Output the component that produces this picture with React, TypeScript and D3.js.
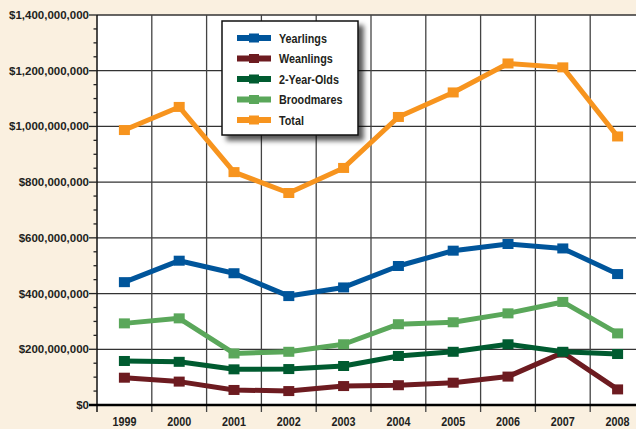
import React, { useEffect, useRef } from 'react';
import * as d3 from 'd3';

const years = ['1999', '2000', '2001', '2002', '2003', '2004', '2005', '2006', '2007', '2008'];

// sales in $ millions
const yearlings = [441, 518, 473, 391, 422, 499, 554, 578, 562, 470];
const weanlings = [98, 84, 54, 50, 68, 71, 80, 102, 188, 56];
const twoYearOlds = [158, 155, 128, 129, 140, 176, 191, 218, 191, 183];
const broodmares = [293, 311, 185, 191, 218, 290, 297, 329, 370, 257];
const total = [987, 1070, 836, 761, 851, 1034, 1122, 1226, 1212, 964];

const seriesNames = ['Yearlings', 'Weanlings', '2-Year-Olds', 'Broodmares', 'Total'];
const seriesColors = ['#00559b', '#6d1b20', '#005b30', '#5aa75a', '#f7941e'];
const seriesValues = [yearlings, weanlings, twoYearOlds, broodmares, total];

const yTicks = [0, 200, 400, 600, 800, 1000, 1200, 1400];

const App: React.FC = () => {
  const svgRef = useRef<SVGSVGElement>(null);

  useEffect(() => {
    if (!svgRef.current) return;
    const svg = d3.select(svgRef.current);
    svg.selectAll('*').remove();

    const width = 636;
    const height = 429;
    const margin = { top: 15, left: 97, bottom: 24 };
    const plotRight = 645;
    const plotBottom = height - margin.bottom;
    // no narrow font installed, so squeeze a bold sans horizontally
    const narrow = 0.83;

    const x = d3.scaleBand<string>().domain(years).range([margin.left, plotRight]).padding(0);
    const y = d3.scaleLinear().domain([0, 1400e6]).range([plotBottom, margin.top]);
    const cx = (yr: string) => (x(yr) || 0) + x.bandwidth() / 2;

    svg.append('rect').attr('width', width).attr('height', height).attr('fill', '#faf0e0');
    svg.append('rect')
      .attr('x', margin.left).attr('y', margin.top)
      .attr('width', plotRight - margin.left).attr('height', plotBottom - margin.top)
      .attr('fill', '#ffffff');

    const defs = svg.append('defs');
    const filter = defs.append('filter').attr('id', 'shadow')
      .attr('x', '-20%').attr('y', '-20%').attr('width', '150%').attr('height', '150%');
    filter.append('feDropShadow')
      .attr('dx', 5).attr('dy', 5).attr('stdDeviation', 2.5)
      .attr('flood-color', '#000').attr('flood-opacity', 0.65);

    // grid
    const grid = svg.append('g');
    yTicks.filter(t => t > 0).forEach(t => {
      grid.append('line')
        .attr('x1', margin.left).attr('x2', plotRight)
        .attr('y1', y(t * 1e6)).attr('y2', y(t * 1e6))
        .attr('stroke', '#333').attr('stroke-width', 1.3);
    });
    years.slice(1).forEach(yr => {
      const gx = x(yr) || 0;
      grid.append('line')
        .attr('x1', gx).attr('x2', gx)
        .attr('y1', margin.top).attr('y2', plotBottom + 7)
        .attr('stroke', '#444').attr('stroke-width', 1.3);
    });

    // left axis
    svg.append('line')
      .attr('x1', margin.left).attr('x2', margin.left)
      .attr('y1', margin.top).attr('y2', plotBottom + 7)
      .attr('stroke', '#111').attr('stroke-width', 1.5);
    d3.range(0, 1401, 50).forEach(v => {
      const major = v % 200 === 0;
      svg.append('line')
        .attr('x1', margin.left - (major ? 8 : 3.5)).attr('x2', margin.left)
        .attr('y1', y(v * 1e6)).attr('y2', y(v * 1e6))
        .attr('stroke', '#222').attr('stroke-width', 1.3);
    });
    svg.append('g').selectAll('text')
      .data(yTicks)
      .enter()
      .append('text')
      .attr('x', margin.left - 8)
      .attr('y', d => y(d * 1e6))
      .attr('dy', '0.35em')
      .attr('text-anchor', 'end')
      .style('font-family', '"Liberation Sans", Arial, sans-serif')
      .style('font-weight', 'bold')
      .style('font-size', '11.5px')
      .style('fill', '#231f20')
      .text(d => d3.format('$,')(d * 1e6));

    // bottom axis
    svg.append('line')
      .attr('x1', margin.left - 8).attr('x2', width)
      .attr('y1', plotBottom).attr('y2', plotBottom)
      .attr('stroke', '#000').attr('stroke-width', 2.5);
    svg.append('g').selectAll('g')
      .data(years)
      .enter()
      .append('g')
      .attr('transform', d => `translate(${cx(d)},${plotBottom + 21}) scale(${narrow},1)`)
      .append('text')
      .attr('text-anchor', 'middle')
      .style('font-family', '"Liberation Sans", Arial, sans-serif')
      .style('font-weight', 'bold')
      .style('font-size', '13px')
      .style('fill', '#231f20')
      .text(d => d);

    // series
    const line = d3.line<number>()
      .x((_, i) => cx(years[i]))
      .y(d => y(d * 1e6));

    seriesValues.forEach((vals, si) => {
      const g = svg.append('g');
      g.append('path')
        .attr('d', line(vals) || '')
        .attr('fill', 'none')
        .attr('stroke', seriesColors[si])
        .attr('stroke-width', 5)
        .attr('stroke-linejoin', 'round');
      g.selectAll('rect')
        .data(vals)
        .enter()
        .append('rect')
        .attr('x', (_, i) => cx(years[i]) - 5.5)
        .attr('y', d => y(d * 1e6) - 5)
        .attr('width', 11)
        .attr('height', 10)
        .attr('fill', seriesColors[si]);
    });

    // legend
    const lg = svg.append('g');
    lg.append('rect')
      .attr('x', 222).attr('y', 21).attr('width', 136).attr('height', 114)
      .attr('fill', '#fff').attr('stroke', '#111').attr('stroke-width', 1.5)
      .attr('filter', 'url(#shadow)');
    seriesNames.forEach((name, i) => {
      const ly = 38 + i * 20.5;
      lg.append('line')
        .attr('x1', 237).attr('x2', 271).attr('y1', ly).attr('y2', ly)
        .attr('stroke', seriesColors[i]).attr('stroke-width', 6);
      lg.append('rect')
        .attr('x', 249).attr('y', ly - 4.5).attr('width', 10).attr('height', 9)
        .attr('fill', seriesColors[i]);
      lg.append('g')
        .attr('transform', `translate(279,${ly}) scale(${narrow},1)`)
        .append('text')
        .attr('dy', '0.35em')
        .style('font-family', '"Liberation Sans", Arial, sans-serif')
        .style('font-weight', 'bold')
        .style('font-size', '13px')
        .style('fill', '#231f20')
        .text(name);
    });
  }, []);

  return (
    <div style={{ position: 'absolute', left: 0, top: 0 }}>
      <svg ref={svgRef} width={636} height={429} style={{ display: 'block' }} />
    </div>
  );
};

export default App;
